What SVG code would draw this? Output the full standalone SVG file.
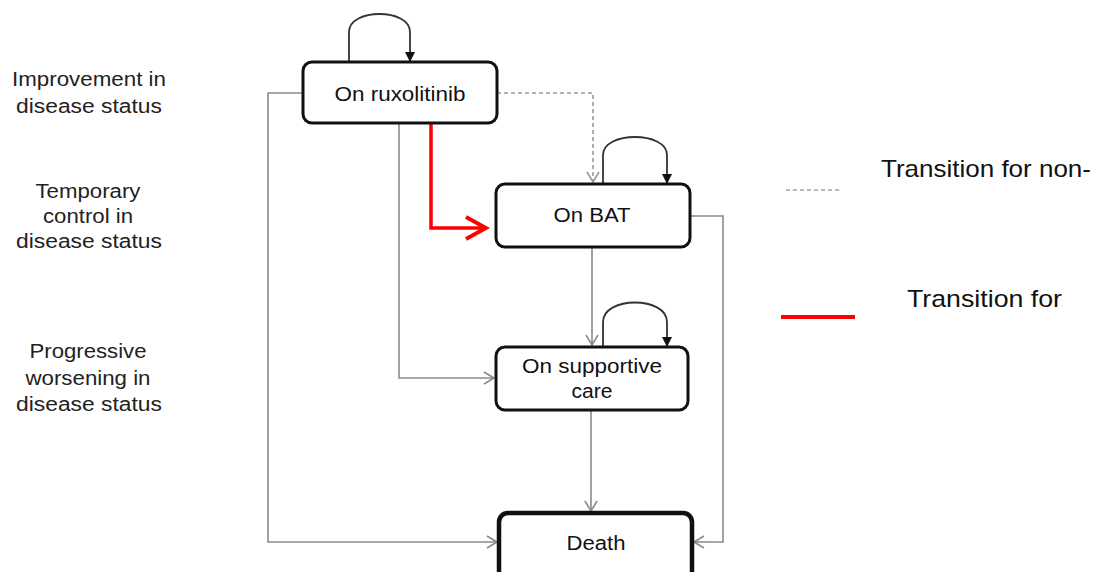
<svg xmlns="http://www.w3.org/2000/svg" width="1096" height="572" viewBox="0 0 1096 572">
<style>
.box{fill:#fff;stroke:#111;stroke-width:3}
.death{fill:#fff;stroke:#111;stroke-width:4.5}
.lbl{font-family:"Liberation Sans",Arial,sans-serif;font-size:20px;fill:#222;text-anchor:middle}
.ntxt{font-family:"Liberation Sans",Arial,sans-serif;font-size:20px;fill:#111;text-anchor:middle}
.leg{font-family:"Liberation Sans",Arial,sans-serif;font-size:24px;fill:#111}
.con{fill:none;stroke:#8a8a8a;stroke-width:1.6}
.dash{fill:none;stroke:#999;stroke-width:1.6;stroke-dasharray:4,3}
.red{fill:none;stroke:#f00;stroke-width:3.5}
.loop{fill:none;stroke:#333;stroke-width:1.8}
</style>
<defs>
<marker id="ag" markerUnits="userSpaceOnUse" markerWidth="14" markerHeight="16" refX="11" refY="7" orient="auto">
<path d="M1,1 L11,7 L1,13" fill="none" stroke="#8a8a8a" stroke-width="1.6"/>
</marker>
<marker id="ad" markerUnits="userSpaceOnUse" markerWidth="14" markerHeight="16" refX="11" refY="7" orient="auto">
<path d="M1,1 L11,7 L1,13" fill="none" stroke="#999" stroke-width="1.6"/>
</marker>
<marker id="ar" markerUnits="userSpaceOnUse" markerWidth="26" markerHeight="28" refX="22" refY="13" orient="auto">
<path d="M2,2 L22,13 L2,24" fill="none" stroke="#f00" stroke-width="4"/>
</marker>
<marker id="ab" markerUnits="userSpaceOnUse" markerWidth="12" markerHeight="12" refX="9" refY="5" orient="auto">
<path d="M0,0 L10,5 L0,10 Z" fill="#111"/>
</marker>
</defs>

<g id="labels">
<text class="lbl" x="89" y="86" textLength="154" lengthAdjust="spacingAndGlyphs">Improvement in</text>
<text class="lbl" x="89" y="113" textLength="146" lengthAdjust="spacingAndGlyphs">disease status</text>
<text class="lbl" x="88" y="198" textLength="105" lengthAdjust="spacingAndGlyphs">Temporary</text>
<text class="lbl" x="88" y="223" textLength="90" lengthAdjust="spacingAndGlyphs">control in</text>
<text class="lbl" x="89" y="248" textLength="146" lengthAdjust="spacingAndGlyphs">disease status</text>
<text class="lbl" x="88" y="358" textLength="117" lengthAdjust="spacingAndGlyphs">Progressive</text>
<text class="lbl" x="88" y="385" textLength="125" lengthAdjust="spacingAndGlyphs">worsening in</text>
<text class="lbl" x="89" y="411" textLength="146" lengthAdjust="spacingAndGlyphs">disease status</text>
</g>

<g id="connectors">
<path class="con" d="M303,93 H268 V542 H497" marker-end="url(#ag)"/>
<path class="con" d="M399,123 V378 H494" marker-end="url(#ag)"/>
<path class="dash" d="M497,93 H593 V182" marker-end="url(#ad)"/>
<path class="con" d="M690,216 H723 V542 H694" marker-end="url(#ag)"/>
<path class="con" d="M592,247 V345" marker-end="url(#ag)"/>
<path class="con" d="M591,410 V511" marker-end="url(#ag)"/>
<path class="red" d="M431,123 V228 H486" marker-end="url(#ar)"/>
<path class="loop" d="M349,62 V32 C349,8 410,8 410,32 V61" marker-end="url(#ab)"/>
<path class="loop" d="M603,184 V155 C603,131 667,131 667,155 V183" marker-end="url(#ab)"/>
<path class="loop" d="M603,347 V322 C603,296 667,296 667,322 V346" marker-end="url(#ab)"/>
</g>

<g id="node-ruxolitinib">
<rect class="box" x="303" y="62" width="194" height="61" rx="9"/>
<text class="ntxt" x="400" y="101" textLength="131" lengthAdjust="spacingAndGlyphs">On ruxolitinib</text>
</g>
<g id="node-bat">
<rect class="box" x="496" y="184" width="194" height="63" rx="9"/>
<text class="ntxt" x="592" y="222" textLength="77" lengthAdjust="spacingAndGlyphs">On BAT</text>
</g>
<g id="node-supportive">
<rect class="box" x="496" y="347" width="192" height="63" rx="9"/>
<text class="ntxt" x="592" y="373" textLength="140" lengthAdjust="spacingAndGlyphs">On supportive</text>
<text class="ntxt" x="592" y="398" textLength="41" lengthAdjust="spacingAndGlyphs">care</text>
</g>
<g id="node-death">
<rect class="death" x="499" y="513" width="193" height="72" rx="9"/>
<text class="ntxt" x="596" y="550" textLength="59" lengthAdjust="spacingAndGlyphs">Death</text>
</g>

<g id="legend">
<path d="M786,190 H840" fill="none" stroke="#bbb" stroke-width="2" stroke-dasharray="4,3"/>
<text class="leg" x="881" y="177" textLength="210" lengthAdjust="spacingAndGlyphs">Transition for non-</text>
<path d="M781,317 H855" fill="none" stroke="#f00" stroke-width="4"/>
<text class="leg" x="907" y="307" textLength="155" lengthAdjust="spacingAndGlyphs">Transition for</text>
</g>
</svg>
